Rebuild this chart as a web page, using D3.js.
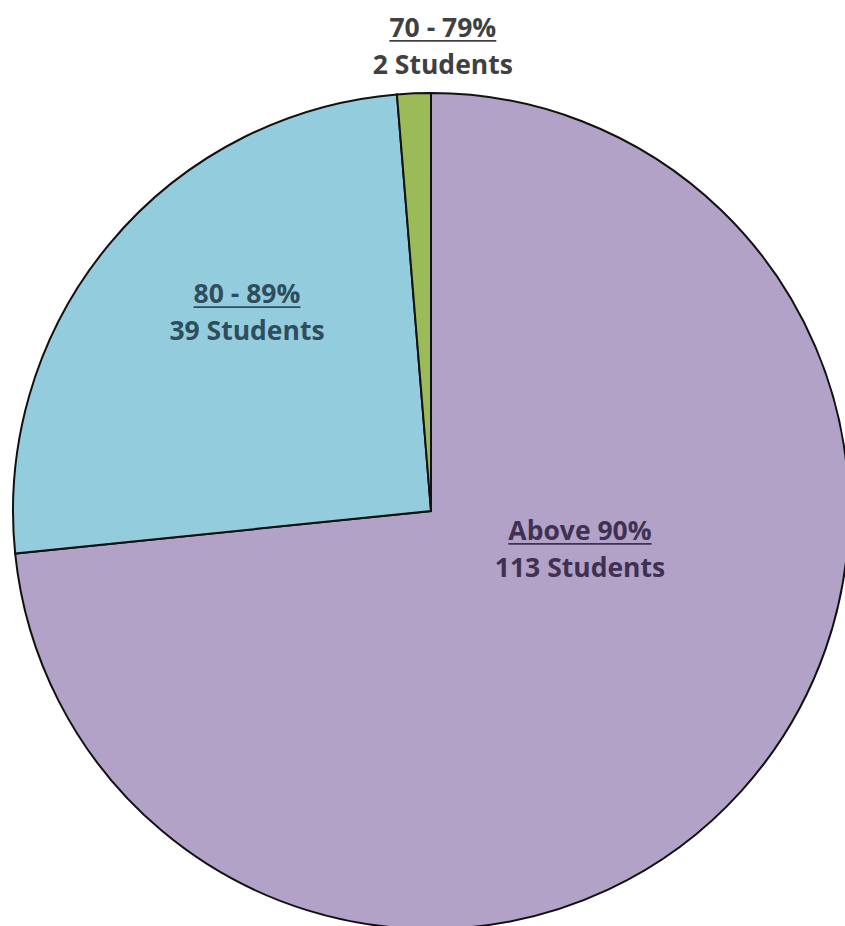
<!DOCTYPE html>
<html>
<head>
<meta charset="utf-8">
<script src="https://cdn.jsdelivr.net/npm/d3@7"></script>
<style>
  html, body { margin: 0; padding: 0; background: #fff; }
  svg { display: block; }
</style>
</head>
<body>
<svg id="chart" width="845" height="926"></svg>
<script>
// ---- data ----
const categories = ["Above 90%", "80 - 89%", "70 - 79%"];
const values = [113, 39, 2];
const valueLabels = ["113 Students", "39 Students", "2 Students"];
const colors = ["#b3a2c7", "#93cddd", "#9bbb59"];
const textColors = ["#403152", "#2f4d5c", "#404040"];

// ---- layout ----
const cx = 431, cy = 511, R = 418;
const svg = d3.select("#chart");
const g = svg.append("g").attr("transform", `translate(${cx},${cy})`);

const data = categories.map((c, i) => ({ cat: c, value: values[i], label: valueLabels[i], color: colors[i], tc: textColors[i] }));

const pie = d3.pie().value(d => d.value).sort(null).startAngle(0).endAngle(2 * Math.PI);
const arc = d3.arc().innerRadius(0).outerRadius(R);
const arcs = pie(data);

g.selectAll("path.slice")
  .data(arcs)
  .join("path")
  .attr("class", "slice")
  .attr("d", arc)
  .attr("fill", d => d.data.color)
  .attr("stroke", "#111")
  .attr("stroke-width", 2)
  .attr("stroke-linejoin", "miter");

// label placement relative to slice mid-angle (radius fraction, angle shift)
const labelSpec = [
  { r: 0.365, da: -0.517 },  // Above 90%
  { r: 0.657, da: 0.143 },   // 80 - 89%
  { r: 1.125, da: 0.066 }    // 70 - 79% (outside, above)
];

const fontFamily = "'Open Sans', Lato, sans-serif";
const fs = 26.5;

arcs.forEach((a, i) => {
  const mid = (a.startAngle + a.endAngle) / 2 + labelSpec[i].da;
  const rr = R * labelSpec[i].r;
  const x = Math.sin(mid) * rr;
  const y = -Math.cos(mid) * rr;
  const lg = g.append("g").attr("transform", `translate(${x},${y})`);
  const t1 = lg.append("text")
    .attr("text-anchor", "middle")
    .attr("y", -4)
    .attr("font-family", fontFamily)
    .attr("font-weight", "bold")
    .attr("font-size", fs)
    .attr("fill", a.data.tc)
    .text(a.data.cat);
  const bb = t1.node().getBBox();
  lg.append("line")
    .attr("x1", -bb.width / 2).attr("x2", bb.width / 2)
    .attr("y1", 0).attr("y2", 0)
    .attr("stroke", a.data.tc)
    .attr("stroke-width", 1.6);
  lg.append("text")
    .attr("text-anchor", "middle")
    .attr("y", 33)
    .attr("font-family", fontFamily)
    .attr("font-weight", "bold")
    .attr("font-size", fs)
    .attr("fill", a.data.tc)
    .text(a.data.label);
});
</script>
</body>
</html>
